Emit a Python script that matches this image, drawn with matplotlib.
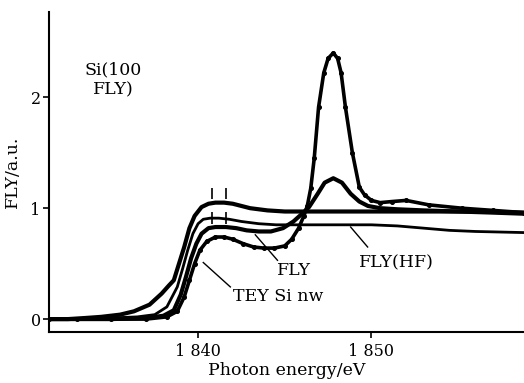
import numpy as np
import matplotlib.pyplot as plt

plt.rcParams['font.family'] = ['DejaVu Serif']
plt.rcParams['mathtext.fontset'] = 'dejavuserif'

# Si K-edge spectra, photon energy (eV) vs normalised yield
tey_x = [1831.4, 1832.5, 1833.5, 1834.4, 1835.5, 1836.3, 1837.2, 1837.9, 1838.3,
         1838.6, 1838.9, 1839.2, 1839.5, 1839.8, 1840.2, 1840.6, 1841.0, 1841.5,
         1842.0, 1842.5, 1843.0, 1844.0, 1845.0, 1846.0, 1847.0, 1848.0, 1849.0,
         1850.0, 1852.0, 1854.0, 1856.0, 1858.8]
tey_y = [0.0, 0.0, 0.01, 0.02, 0.04, 0.07, 0.13, 0.23, 0.3,
         0.35, 0.5, 0.65, 0.82, 0.93, 1.01, 1.04, 1.05, 1.05,
         1.04, 1.02, 1.0, 0.98, 0.97, 0.97, 0.97, 0.97, 0.97,
         0.97, 0.97, 0.97, 0.97, 0.96]

flyhf_x = [1831.4, 1833.0, 1835.0, 1836.5, 1837.5, 1838.2, 1838.8, 1839.1, 1839.4,
           1839.7, 1840.0, 1840.3, 1840.7, 1841.2, 1841.8, 1842.5, 1843.5, 1844.5,
           1845.5, 1846.5, 1848.0, 1850.0, 1851.5, 1853.0, 1854.5, 1856.0, 1858.8]
flyhf_y = [0.0, 0.0, 0.01, 0.02, 0.04, 0.11, 0.29, 0.45, 0.62,
           0.77, 0.86, 0.9, 0.91, 0.91, 0.9, 0.88, 0.86, 0.85,
           0.85, 0.85, 0.85, 0.85, 0.84, 0.82, 0.8, 0.79, 0.78]

fly_x = [1831.4, 1833.0, 1835.0, 1837.0, 1838.0, 1838.6, 1839.0, 1839.3, 1839.6,
         1839.9, 1840.2, 1840.6, 1841.0, 1841.6, 1842.2, 1842.8, 1843.5, 1844.2,
         1844.9, 1845.5, 1846.0, 1846.4, 1846.9, 1847.3, 1847.8, 1848.3, 1848.8,
         1849.3, 1849.8, 1850.5, 1851.5, 1853.0, 1855.0, 1857.0, 1858.8]
fly_y = [0.0, 0.0, 0.0, 0.01, 0.03, 0.08, 0.22, 0.38, 0.55,
         0.68, 0.77, 0.82, 0.83, 0.83, 0.82, 0.8, 0.79, 0.79,
         0.82, 0.88, 0.95, 1.01, 1.13, 1.23, 1.27, 1.23, 1.13,
         1.06, 1.02, 1.0, 0.99, 0.98, 0.97, 0.96, 0.95]

si100_x = [1831.4, 1833.0, 1835.0, 1837.0, 1838.2, 1838.8, 1839.2, 1839.5, 1839.8,
           1840.1, 1840.5, 1841.0, 1841.5, 1842.0, 1842.6, 1843.2, 1843.8, 1844.4,
           1845.0, 1845.4, 1845.8, 1846.1, 1846.3, 1846.5, 1846.7, 1846.95, 1847.25,
           1847.5, 1847.8, 1848.05, 1848.25, 1848.5, 1848.9, 1849.3, 1849.6, 1850.0,
           1850.5, 1851.2, 1852.0, 1853.3, 1855.2, 1857.0, 1858.8]
si100_y = [0.0, 0.0, 0.0, 0.0, 0.02, 0.07, 0.2, 0.35, 0.5,
           0.62, 0.7, 0.74, 0.74, 0.72, 0.68, 0.65, 0.64, 0.64,
           0.66, 0.72, 0.82, 0.93, 1.02, 1.18, 1.45, 1.91, 2.22,
           2.35, 2.4, 2.35, 2.22, 1.91, 1.5, 1.19, 1.12, 1.07,
           1.05, 1.06, 1.07, 1.03, 1.0, 0.98, 0.96]

# short vertical markers above the pre-edge plateau
mark_x = [1840.8, 1841.6]

fig = plt.figure(figsize=(5.24, 3.83), dpi=100)
ax = fig.add_axes([0.0935, 0.133, 0.9065, 0.836])

ax.plot(tey_x, tey_y, color='black', lw=3.0)
ax.plot(flyhf_x, flyhf_y, color='black', lw=2.0)
ax.plot(fly_x, fly_y, color='black', lw=3.0)
ax.plot(si100_x, si100_y, color='black', lw=2.6, marker='o', ms=2.6)

ax.vlines(mark_x, 1.08, 1.18, color='black', lw=1.2)
ax.vlines(mark_x, 0.86, 0.97, color='black', lw=1.2)

fs = 12.5
ax.text(1835.1, 2.16, 'Si(100\nFLY)', ha='center', va='center', fontsize=fs,
        linespacing=1.25)

# leader lines from curves to their labels
leaders = [((1840.3, 0.51), (1841.86, 0.29)),
           ((1843.3, 0.76), (1844.58, 0.53)),
           ((1848.8, 0.83), (1849.78, 0.65))]
for (x0, y0), (x1, y1) in leaders:
    ax.plot([x0, x1], [y0, y1], color='black', lw=1.0)
ax.text(1844.6, 0.20, 'TEY Si nw', ha='center', va='center', fontsize=fs)
ax.text(1845.56, 0.44, 'FLY', ha='center', va='center', fontsize=fs)
ax.text(1851.46, 0.51, 'FLY(HF)', ha='center', va='center', fontsize=fs)

ax.set_xlim(1831.4, 1858.8)
ax.set_ylim(-0.117, 2.77)
ax.set_xticks([1840, 1850])
ax.set_xticklabels(['1 840', '1 850'])
ax.set_yticks([0, 1, 2])
ax.tick_params(labelsize=11.5, width=1.2, length=4, direction='out')
ax.tick_params(axis='y', pad=2)
ax.tick_params(axis='x', pad=4)
ax.spines['top'].set_visible(False)
ax.spines['right'].set_visible(False)
ax.spines['left'].set_linewidth(1.5)
ax.spines['bottom'].set_linewidth(1.5)
ax.set_xlabel('Photon energy/eV', fontsize=fs, labelpad=1)
ax.set_ylabel('FLY/a.u.', fontsize=fs, labelpad=7)

fig.savefig('out.png', dpi=100)
